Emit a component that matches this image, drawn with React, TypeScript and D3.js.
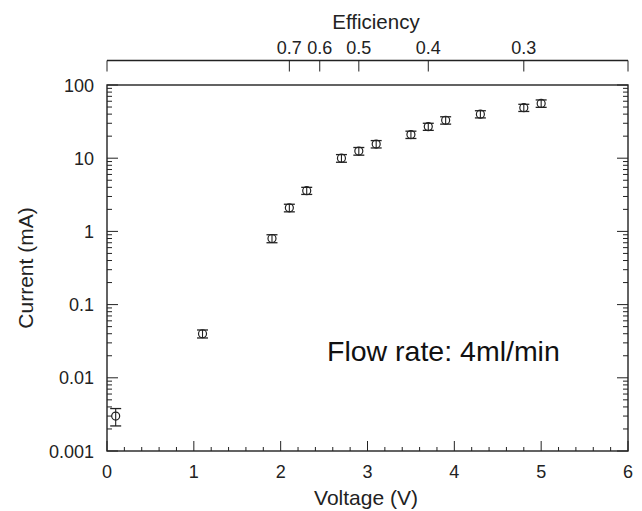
import { useEffect, useRef } from 'react'
import * as d3 from 'd3'

// Measured points (voltage V, current mA, error half-width mA)
const voltage = [0.1, 1.1, 1.9, 2.1, 2.3, 2.7, 2.9, 3.1, 3.5, 3.7, 3.9, 4.3, 4.8, 5.0]
const current = [0.003, 0.04, 0.8, 2.1, 3.6, 10, 12.5, 15.6, 21, 27, 33, 40, 49, 56]
const currentErr = [0.0008, 0.005, 0.1, 0.25, 0.4, 1.2, 1.5, 1.8, 2.4, 3, 3.8, 4.5, 5.5, 6.5]

// Top axis: efficiency labels and the voltage where each sits
const effLabels = ['0.7', '0.6', '0.5', '0.4', '0.3']
const effVoltage = [2.1, 2.45, 2.9, 3.7, 4.8]

const xTicks = [0, 1, 2, 3, 4, 5, 6]
const yTicks = [0.001, 0.01, 0.1, 1, 10, 100]
const yTickLabels = ['0.001', '0.01', '0.1', '1', '10', '100']

const W = 642
const H = 511
const M = { top: 85, right: 14, bottom: 60, left: 107 }
const TOP_AXIS_Y = 60.5
const FONT = 'Arial, "Liberation Sans", Helvetica, sans-serif'
const INK = '#222'

export default function App() {
  const svgRef = useRef<SVGSVGElement>(null)

  useEffect(() => {
    document.body.style.margin = '0'
    if (!svgRef.current) return
    const svg = d3.select(svgRef.current)
    svg.selectAll('*').remove()

    const innerW = W - M.left - M.right
    const innerH = H - M.top - M.bottom
    const x = d3.scaleLinear().domain([0, 6]).range([M.left, M.left + innerW])
    const y = d3.scaleLog().domain([0.001, 100]).range([M.top + innerH, M.top])

    const g = svg.append('g').attr('font-family', FONT)

    // ── Frame ──────────────────────────────────────────────────────────────
    g.append('rect')
      .attr('x', M.left).attr('y', M.top)
      .attr('width', innerW).attr('height', innerH)
      .attr('fill', 'none').attr('stroke', INK).attr('stroke-width', 1.4)

    // ── X ticks (inward) ───────────────────────────────────────────────────
    const xMinor = d3.range(0, 6.0001, 0.2)
    g.append('g').selectAll('line').data(xMinor).join('line')
      .attr('x1', (d) => x(d)).attr('x2', (d) => x(d))
      .attr('y1', y(0.001)).attr('y2', (d) => y(0.001) - (Math.abs(d - Math.round(d)) < 1e-6 ? 10 : 4))
      .attr('stroke', INK).attr('stroke-width', 1)

    g.append('g').selectAll('text').data(xTicks).join('text')
      .attr('x', (d) => x(d)).attr('y', y(0.001) + 27)
      .attr('text-anchor', 'middle').attr('font-size', 18).attr('fill', INK)
      .text((d) => String(d))

    // ── Y ticks (inward, both sides) ───────────────────────────────────────
    const yMinor: number[] = []
    for (let e = -3; e < 2; e++) for (let k = 2; k <= 9; k++) yMinor.push(k * Math.pow(10, e))
    const yAll = [...yTicks.map((v) => ({ v, major: true })), ...yMinor.map((v) => ({ v, major: false }))]
    for (const side of [M.left, M.left + innerW]) {
      const dir = side === M.left ? 1 : -1
      g.append('g').selectAll('line').data(yAll).join('line')
        .attr('x1', side).attr('x2', (d) => side + dir * (d.major ? 11 : 5))
        .attr('y1', (d) => y(d.v)).attr('y2', (d) => y(d.v))
        .attr('stroke', INK).attr('stroke-width', 1)
    }

    g.append('g').selectAll('text').data(yTicks).join('text')
      .attr('x', M.left - 13).attr('y', (d) => y(d) + 6.5)
      .attr('text-anchor', 'end').attr('font-size', 18).attr('fill', INK)
      .text((_, i) => yTickLabels[i])

    // ── Top efficiency axis ────────────────────────────────────────────────
    g.append('line')
      .attr('x1', x(0)).attr('x2', x(6))
      .attr('y1', TOP_AXIS_Y).attr('y2', TOP_AXIS_Y)
      .attr('stroke', INK).attr('stroke-width', 1.4)
    g.append('g').selectAll('line').data([0, 6, ...effVoltage]).join('line')
      .attr('x1', (d) => x(d)).attr('x2', (d) => x(d))
      .attr('y1', TOP_AXIS_Y).attr('y2', TOP_AXIS_Y + 11)
      .attr('stroke', INK).attr('stroke-width', 1)
    g.append('g').selectAll('text').data(effVoltage).join('text')
      .attr('x', (d) => x(d)).attr('y', 53.5)
      .attr('text-anchor', 'middle').attr('font-size', 18).attr('fill', INK)
      .text((_, i) => effLabels[i])

    // ── Axis titles ────────────────────────────────────────────────────────
    g.append('text')
      .attr('x', 376).attr('y', 28.5)
      .attr('text-anchor', 'middle').attr('font-size', 20.5).attr('fill', INK)
      .text('Efficiency')
    g.append('text')
      .attr('x', 366).attr('y', 505)
      .attr('text-anchor', 'middle').attr('font-size', 21).attr('fill', INK)
      .text('Voltage (V)')
    g.append('text')
      .attr('transform', `translate(33,${(y(0.001) + y(100)) / 2}) rotate(-90)`)
      .attr('text-anchor', 'middle').attr('font-size', 21).attr('fill', INK)
      .text('Current (mA)')

    // ── Annotation ─────────────────────────────────────────────────────────
    g.append('text')
      .attr('x', 327).attr('y', 361)
      .attr('font-size', 28.5).attr('fill', '#111')
      .text('Flow rate: 4ml/min')

    // ── Points with error bars ─────────────────────────────────────────────
    const pts = voltage.map((v, i) => ({ v, c: current[i], e: currentErr[i] }))
    const pg = g.append('g').selectAll('g').data(pts).join('g')
    pg.append('line')
      .attr('x1', (d) => x(d.v)).attr('x2', (d) => x(d.v))
      .attr('y1', (d) => y(d.c + d.e)).attr('y2', (d) => y(d.c - d.e))
      .attr('stroke', INK).attr('stroke-width', 1.1)
    for (const key of ['hi', 'lo']) {
      pg.append('line')
        .attr('x1', (d) => x(d.v) - 5.5).attr('x2', (d) => x(d.v) + 5.5)
        .attr('y1', (d) => y(key === 'hi' ? d.c + d.e : d.c - d.e))
        .attr('y2', (d) => y(key === 'hi' ? d.c + d.e : d.c - d.e))
        .attr('stroke', INK).attr('stroke-width', 1.3)
    }
    pg.append('circle')
      .attr('cx', (d) => x(d.v)).attr('cy', (d) => y(d.c)).attr('r', 4)
      .attr('fill', 'none').attr('stroke', INK).attr('stroke-width', 1.2)
  }, [])

  return <svg ref={svgRef} width={W} height={H} style={{ display: 'block', background: '#fff' }} />
}
